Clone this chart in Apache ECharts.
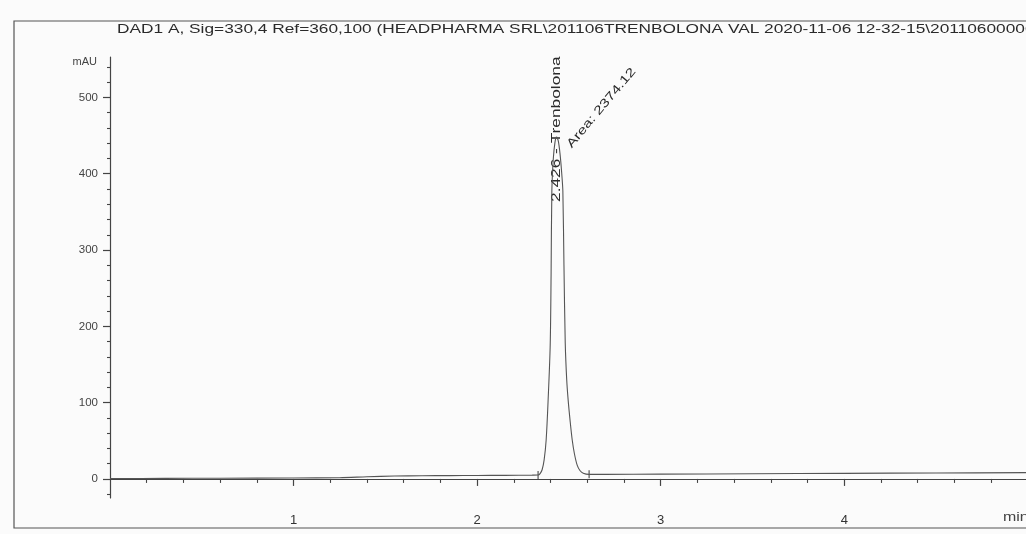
<!DOCTYPE html>
<html>
<head>
<meta charset="utf-8">
<script src="https://cdn.jsdelivr.net/npm/echarts@6/dist/echarts.min.js"></script>
<style>
  html, body { margin: 0; padding: 0; background: #fbfbfb; }
  #chart { width: 1026px; height: 534px; }
</style>
</head>
<body>
<div id="chart"></div>
<script>
// ---- data ----
const titleText = 'DAD1 A, Sig=330,4 Ref=360,100 (HEADPHARMA SRL\\201106TRENBOLONA VAL 2020-11-06 12-32-15\\201106000001.D)';
const timeMin = [0.00, 0.30, 0.60, 1.00, 1.25, 1.40, 1.55, 1.70, 1.85, 2.00, 2.15, 2.30, 2.332, 2.343, 2.354, 2.365, 2.376, 2.387, 2.398, 2.403, 2.407, 2.415, 2.424, 2.432, 2.442, 2.452, 2.461, 2.467, 2.473, 2.480, 2.488, 2.496, 2.507, 2.518, 2.530, 2.545, 2.560, 2.578, 2.610, 2.700, 3.000, 3.500, 4.000, 4.500, 4.990];
const absMAU  = [0.5, 0.7, 0.9, 1.2, 1.6, 2.8, 3.8, 4.2, 4.3, 4.5, 4.7, 5.0, 5.2, 7, 12, 25, 51, 105, 175, 270, 377, 420, 441, 448, 443, 425, 400, 377, 280, 178, 130, 103, 75, 51, 33, 18, 11, 7.5, 6, 6, 6.3, 6.8, 7.3, 7.8, 8.2];
const peakRT = [2.426];
const peakHeight = [448];
const peakName = ['Trenbolona'];
const peakArea = [2374.12];
const integrationEvents = [[2.332, 5.2], [2.610, 6]];
const xTickLabels = [1, 2, 3, 4];
const xMinorTicks = [0.2, 0.4, 0.6, 0.8, 1.2, 1.4, 1.6, 1.8, 2.2, 2.4, 2.6, 2.8, 3.2, 3.4, 3.6, 3.8, 4.2, 4.4, 4.6, 4.8];
const yTickLabels = [0, 100, 200, 300, 400, 500];
const yMinorTicks = [-20, 20, 40, 60, 80, 120, 140, 160, 180, 220, 240, 260, 280, 320, 340, 360, 380, 420, 440, 460, 480, 520, 540];
const xRange = [0, 4.99];
const yRange = [-25, 553];

const ink = '#444';
const FONT = '"Liberation Sans", Arial, sans-serif';
const STRETCH = 1.33;

const chart = echarts.init(document.getElementById('chart'), null, { renderer: 'canvas' });
const traceData = timeMin.map((t, i) => [t, absMAU[i]]);

function axisBase(extra) {
  return Object.assign({
    type: 'value', gridIndex: 0,
    splitLine: { show: false },
  }, extra);
}

chart.setOption({
  backgroundColor: '#fbfbfb',
  animation: false,
  grid: { left: 110, right: 0, top: 57, bottom: 36 },
  xAxis: [
    axisBase({
      min: xRange[0], max: xRange[1], position: 'bottom',
      axisLine: { show: true, lineStyle: { color: ink, width: 1.2 } },
      axisTick: { show: true, customValues: xTickLabels, length: 7, lineStyle: { color: ink, width: 1.2 } },
      axisLabel: { show: true, customValues: xTickLabels, margin: 16, fontSize: 13, color: '#333', fontFamily: FONT }
    }),
    axisBase({
      min: xRange[0], max: xRange[1], position: 'bottom',
      axisLine: { show: false },
      axisTick: { show: true, customValues: xMinorTicks, length: 4, lineStyle: { color: ink, width: 1.1 } },
      axisLabel: { show: false }
    })
  ],
  yAxis: [
    axisBase({
      min: yRange[0], max: yRange[1], position: 'left',
      axisLine: { show: true, lineStyle: { color: ink, width: 1.2 } },
      axisTick: { show: true, customValues: yTickLabels, length: 7, lineStyle: { color: ink, width: 1.2 } },
      axisLabel: { show: true, customValues: yTickLabels, margin: 12, fontSize: 11.5, color: '#444', fontFamily: FONT }
    }),
    axisBase({
      min: yRange[0], max: yRange[1], position: 'left', offset: 0,
      axisLine: { show: false },
      axisTick: { show: true, customValues: yMinorTicks, length: 3, lineStyle: { color: ink, width: 1.1 } },
      axisLabel: { show: false }
    })
  ],
  series: [{
    type: 'line',
    xAxisIndex: 0, yAxisIndex: 0,
    data: traceData,
    showSymbol: false,
    smooth: 0.3,
    lineStyle: { color: '#555', width: 1.1 },
    markPoint: {
      symbol: 'rect',
      symbolSize: [1.2, 8],
      itemStyle: { color: '#555' },
      label: { show: false },
      data: integrationEvents.map(p => ({ coord: p }))
    }
  }]
});

function px(p) { return chart.convertToPixel({ xAxisIndex: 0, yAxisIndex: 0 }, p); }

const rtAnchor = px([peakRT[0], peakHeight[0] - 85]);
const areaAnchor = px([peakRT[0] + 0.075, peakHeight[0] - 12]);

chart.setOption({
  graphic: [
    { type: 'polyline', silent: true,
      shape: { points: [[1040, 21], [14, 21], [14, 528], [1040, 528]] },
      style: { stroke: '#555', lineWidth: 1.2, fill: null } },
    { type: 'text', x: 117, y: 29, scaleX: STRETCH,
      style: { text: titleText, font: '13px ' + FONT, fill: '#2a2a2a', textAlign: 'left', textVerticalAlign: 'middle' } },
    { type: 'text', x: 97, y: 62,
      style: { text: 'mAU', font: '11px ' + FONT, fill: '#444', textAlign: 'right', textVerticalAlign: 'middle' } },
    { type: 'text', x: 1003, y: 518, scaleX: STRETCH,
      style: { text: 'min', font: '12px ' + FONT, fill: '#444', textAlign: 'left', textVerticalAlign: 'middle' } },
    { type: 'text', x: rtAnchor[0] + 1, y: rtAnchor[1], rotation: Math.PI / 2, scaleX: STRETCH,
      style: { text: peakRT[0].toFixed(3) + ' - ' + peakName[0], font: '13px ' + FONT, fill: '#2a2a2a', textAlign: 'left', textVerticalAlign: 'middle' } },
    { type: 'text', x: areaAnchor[0], y: areaAnchor[1], rotation: 50 * Math.PI / 180, scaleX: STRETCH,
      style: { text: 'Area: ' + peakArea[0].toFixed(2), font: '12px ' + FONT, fill: '#2a2a2a', textAlign: 'left', textVerticalAlign: 'middle' } }
  ]
});
</script>
</body>
</html>
